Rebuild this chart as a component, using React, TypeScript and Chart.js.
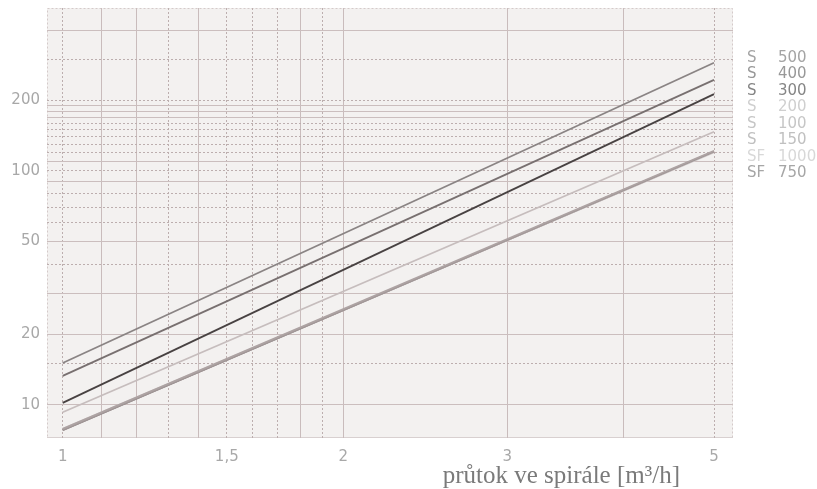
import React, { useEffect, useRef } from "react";
import { Chart, registerables } from "chart.js";
Chart.register(...registerables);

// flow [m3/h] at line ends
const FLOW = [1, 5];
// series values (log-log straight lines)
const S500 = [15.1, 290];
const S400 = [13.3, 245];
const S300 = [10.2, 213];
const S200 = [9.3, 147];
const S100 = [7.9, 122];
const S150 = [7.8, 121];
const SF1000 = [7.9, 120];
const SF750 = [7.8, 121];

const SERIES_TYPES = ["S", "S", "S", "S", "S", "S", "SF", "SF"];
const SERIES_SIZES = ["500", "400", "300", "200", "100", "150", "1000", "750"];
const SERIES_VALUES = [S500, S400, S300, S200, S100, S150, SF1000, SF750];
const LINE_COLORS = ["#8a8484", "#787070", "#484242", "#c6bdbd", "#ada3a3", "#a09696", "#d6d0d0", "#867c7c"];
const LEGEND_COLORS = ["#a4a4a4", "#989898", "#858585", "#cfcfcf", "#c6c6c6", "#c0c0c0", "#d8d8d8", "#a6a6a6"];

const X_GRID = [1, 1.1, 1.2, 1.3, 1.4, 1.5, 1.6, 1.7, 1.8, 1.9, 2, 3, 4, 5];
const X_LABELED = [1, 1.5, 2, 3, 5];
const X_DOTTED = [1, 1.3, 1.5, 1.6, 1.7, 1.9, 5];
const Y_GRID = [10, 15, 20, 30, 40, 50, 60, 70, 80, 90, 100, 110, 120, 130, 140, 150, 160, 170, 180, 190, 200, 300, 400];
const Y_LABELED = [10, 20, 50, 100, 200];
const Y_DOTTED = [15, 40, 60, 70, 80, 100, 120, 130, 140, 150, 160, 200, 300];

const X_TITLE = "průtok ve spirále [m³/h]";

const frameAndText = {
  id: "frameAndText",
  beforeDraw(chart: any) {
    const { ctx, chartArea: a } = chart;
    ctx.save();
    ctx.fillStyle = "#f3f1f0";
    ctx.fillRect(a.left, a.top, a.right - a.left, a.bottom - a.top);
    ctx.strokeStyle = "#d4caca";
    ctx.lineWidth = 1;
    ctx.setLineDash([2, 2]);
    ctx.strokeRect(a.left + 0.5, a.top + 0.5, a.right - a.left - 1, a.bottom - a.top - 1);
    ctx.setLineDash([]);
    ctx.strokeStyle = "#d8d0d0";
    ctx.beginPath();
    ctx.moveTo(a.left, a.bottom - 0.5);
    ctx.lineTo(a.right, a.bottom - 0.5);
    ctx.stroke();
    ctx.restore();
  },
  afterDraw(chart: any) {
    const { ctx, chartArea: a } = chart;
    ctx.save();
    // axis title
    ctx.fillStyle = "#7a7a7a";
    ctx.font = "25px 'Liberation Serif', serif";
    ctx.textAlign = "right";
    ctx.textBaseline = "alphabetic";
    ctx.fillText(X_TITLE, a.right - 53, chart.height - 6);
    // legend
    ctx.font = "15px 'DejaVu Sans', sans-serif";
    ctx.textAlign = "left";
    ctx.textBaseline = "middle";
    chart.data.datasets.forEach((ds: any, i: number) => {
      const y = a.top + 50 + i * 16.5;
      ctx.fillStyle = LEGEND_COLORS[i];
      ctx.fillText(SERIES_TYPES[i], a.right + 14, y);
      ctx.fillText(SERIES_SIZES[i], a.right + 45, y);
    });
    ctx.restore();
  },
};

export default function App() {
  const ref = useRef<HTMLCanvasElement>(null);
  useEffect(() => {
    if (!ref.current) return;
    const datasets = SERIES_VALUES.map((vals, i) => ({
      label: SERIES_TYPES[i] + " " + SERIES_SIZES[i],
      data: FLOW.map((x, j) => ({ x, y: vals[j] })),
      borderColor: LINE_COLORS[i],
      borderWidth: 1.8,
      pointRadius: 0,
      tension: 0,
      fill: false,
    }));
    const tickFont = { family: "'DejaVu Sans', sans-serif", size: 15 };
    const chart = new Chart(ref.current, {
      type: "line",
      data: { datasets },
      plugins: [frameAndText],
      options: {
        animation: false,
        responsive: false,
        devicePixelRatio: 1,
        layout: { padding: { top: 8, right: 84, left: 0, bottom: 0 } },
        plugins: { legend: { display: false }, tooltip: { enabled: false } },
        scales: {
          x: {
            type: "logarithmic",
            min: 0.962,
            max: 5.24,
            afterBuildTicks: (s: any) => {
              s.ticks = X_GRID.map((v) => ({ value: v }));
            },
            afterFit: (s: any) => {
              s.height = 51;
              s.paddingLeft = 0;
              s.paddingRight = 0;
            },
            ticks: {
              autoSkip: false,
              maxRotation: 0,
              padding: 10,
              color: "#a8a8a8",
              font: tickFont,
              callback: (v: any) => (X_LABELED.includes(v) ? String(v).replace(".", ",") : ""),
            },
            grid: {
              drawTicks: false,
              color: (c: any) => (X_DOTTED.includes(c.tick?.value) ? "#bcaeae" : "#c9bcbc"),
              lineWidth: 1,
            },
            border: {
              display: false,
              dash: (c: any) => (X_DOTTED.includes(c.tick?.value) ? [2, 2] : []),
            },
          },
          y: {
            type: "logarithmic",
            min: 7.22,
            max: 497,
            afterBuildTicks: (s: any) => {
              s.ticks = Y_GRID.map((v) => ({ value: v }));
            },
            afterFit: (s: any) => {
              s.width = 47;
              s.paddingTop = 0;
              s.paddingBottom = 0;
            },
            ticks: {
              autoSkip: false,
              padding: 7,
              color: "#a8a8a8",
              font: tickFont,
              callback: (v: any) => (Y_LABELED.includes(v) ? String(v) : ""),
            },
            grid: {
              drawTicks: false,
              color: (c: any) => (Y_DOTTED.includes(c.tick?.value) ? "#bcaeae" : "#cbbebe"),
              lineWidth: 1,
            },
            border: {
              display: false,
              dash: (c: any) => (Y_DOTTED.includes(c.tick?.value) ? [2, 2] : []),
            },
          },
        },
      },
    } as any);
    return () => chart.destroy();
  }, []);
  return (
    <div style={{ position: "absolute", left: 0, top: 0, width: 817, height: 489, background: "#fff" }}>
      <canvas ref={ref} width={817} height={489} style={{ display: "block" }} />
    </div>
  );
}
